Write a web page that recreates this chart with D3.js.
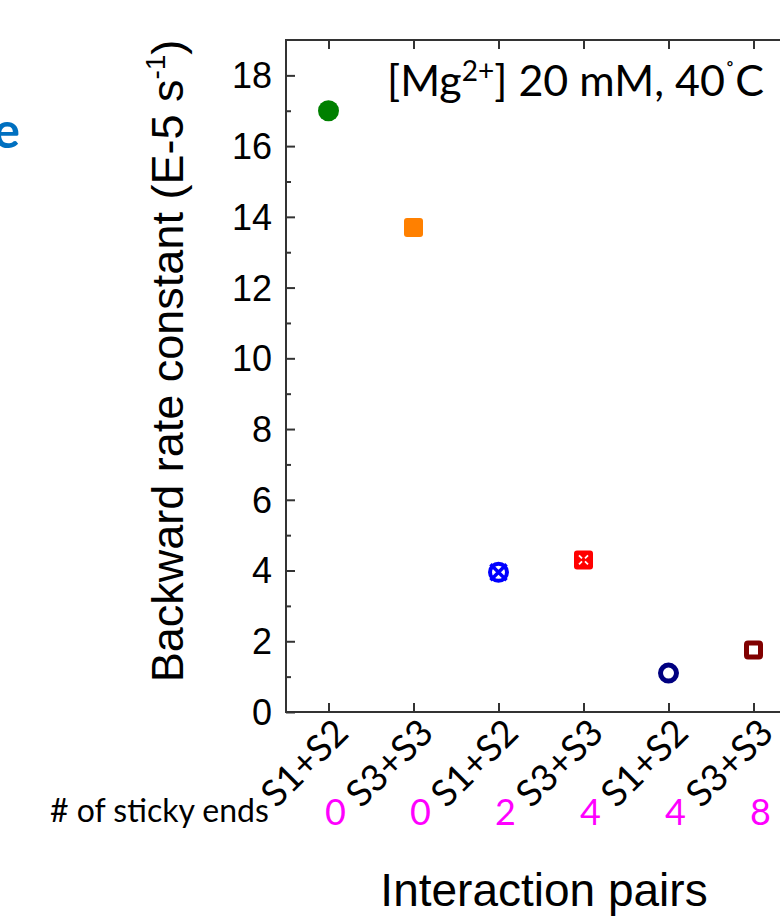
<!DOCTYPE html>
<meta charset="utf-8">
<script src="https://d3js.org/d3.v7.min.js"></script>
<style>
  body { margin: 0px; background: #fff; }
  .ytick { font-family: Arial, "Liberation Sans", sans-serif; font-size: 36px; fill: #000; }
  .xtick { font-family: Lato, "Open Sans", sans-serif; font-size: 37px; fill: #000; }
</style>
<div id="my_dataviz"></div>
<script>

// data
const pairs = ["S1+S2", "S3+S3", "S1+S2", "S3+S3", "S1+S2", "S3+S3"];
const rates = [17.0, 13.7, 3.95, 4.3, 1.1, 1.75];
const stickyEnds = ["0", "0", "2", "4", "4", "8"];
const yTicks = [0, 2, 4, 6, 8, 10, 12, 14, 16, 18];

// one marker kind per point
const markerKind = ["dot", "square", "xcircle", "xsquare", "ring", "box"];
const markerColor = ["#008000", "#ff8000", "#0000ff", "#ff0000", "#000080", "#800000"];

var width = 780, height = 917;
var margin = {top: 40, left: 286, bottom: 712, right: 796};

var svg = d3.select("#my_dataviz")
  .append("svg")
    .attr("width", width)
    .attr("height", height);

var x = d3.scalePoint()
    .domain(d3.range(pairs.length))
    .range([margin.left, margin.right])
    .padding(0.5);

var y = d3.scaleLinear()
    .domain([0, 19])
    .range([margin.bottom, margin.top]);

var axisColor = "#333";

// frame
svg.append("rect")
  .attr("x", margin.left).attr("y", margin.top)
  .attr("width", margin.right - margin.left).attr("height", margin.bottom - margin.top)
  .attr("fill", "none").attr("stroke", axisColor).attr("stroke-width", 2);

// left axis, ticks inside
var yAxis = svg.append("g")
  .attr("transform", "translate(" + margin.left + ",0)")
  .call(d3.axisRight(y).tickValues(yTicks).tickSize(9).tickFormat(""));
yAxis.select(".domain").remove();
yAxis.selectAll("line").attr("stroke", axisColor).attr("stroke-width", 2);

var yMinor = svg.append("g")
  .attr("transform", "translate(" + margin.left + ",0)")
  .call(d3.axisRight(y).tickValues(d3.range(1, 19, 2)).tickSize(5).tickFormat(""));
yMinor.select(".domain").remove();
yMinor.selectAll("line").attr("stroke", axisColor).attr("stroke-width", 2);

svg.selectAll(".ytick")
  .data(yTicks)
  .enter().append("text")
    .attr("class", "ytick")
    .attr("x", margin.left - 14)
    .attr("y", d => y(d))
    .attr("dy", "0.36em")
    .attr("text-anchor", "end")
    .text(d => d);

// bottom and top ticks
var xb = svg.append("g")
  .attr("transform", "translate(0," + margin.bottom + ")")
  .call(d3.axisTop(x).tickSize(9).tickFormat(""));
xb.select(".domain").remove();
xb.selectAll("line").attr("stroke", axisColor).attr("stroke-width", 2);

var xt = svg.append("g")
  .attr("transform", "translate(0," + margin.top + ")")
  .call(d3.axisBottom(x).tickSize(9).tickFormat(""));
xt.select(".domain").remove();
xt.selectAll("line").attr("stroke", axisColor).attr("stroke-width", 2);

// rotated category labels
svg.selectAll(".xtick")
  .data(pairs)
  .enter().append("text")
    .attr("class", "xtick")
    .attr("text-anchor", "end")
    .attr("transform", (d, i) => "translate(" + (x(i) + 22) + "," + 735 + ") rotate(-45)")
    .text(d => d);

// markers
var pts = svg.selectAll(".pt")
  .data(rates)
  .enter().append("g")
    .attr("class", "pt")
    .attr("transform", (d, i) => "translate(" + x(i) + "," + y(d) + ")");

pts.each(function(d, i) {
  var g = d3.select(this), c = markerColor[i];
  switch (markerKind[i]) {
    case "dot":
      g.append("circle").attr("r", 10.5).attr("fill", c);
      break;
    case "square":
      g.append("rect").attr("x", -9.5).attr("y", -9.5).attr("width", 19).attr("height", 19)
        .attr("rx", 3).attr("fill", c);
      break;
    case "xcircle":
      g.append("circle").attr("r", 8.5).attr("fill", "none").attr("stroke", c).attr("stroke-width", 4);
      g.append("path").attr("d", "M-8,-8L8,8M-8,8L8,-8").attr("stroke", c).attr("stroke-width", 3.5);
      break;
    case "xsquare":
      g.append("rect").attr("x", -9.5).attr("y", -9.5).attr("width", 19).attr("height", 19)
        .attr("rx", 3).attr("fill", c);
      g.append("path").attr("d", "M-4.5,-4.5L-1.5,-1.5M4.5,-4.5L1.5,-1.5M-4.5,4.5L-1.5,1.5M4.5,4.5L1.5,1.5")
        .attr("stroke", "#fff").attr("stroke-width", 1.8);
      break;
    case "ring":
      g.append("circle").attr("r", 8).attr("fill", "none").attr("stroke", c).attr("stroke-width", 5);
      break;
    case "box":
      g.append("rect").attr("x", -7).attr("y", -7).attr("width", 14).attr("height", 14)
        .attr("rx", 1.5).attr("fill", "none").attr("stroke", c).attr("stroke-width", 5);
      break;
  }
});

// y title
var yt = svg.append("text")
  .attr("transform", "translate(183,361) rotate(-90)")
  .attr("text-anchor", "middle")
  .style("font-family", "Arial, 'Liberation Sans', sans-serif")
  .style("font-size", "45px")
  .attr("fill", "#000");
yt.append("tspan").text("Backward rate constant (E-5 s");
yt.append("tspan").attr("dy", -18).style("font-size", "28px").text("-1");
yt.append("tspan").attr("dy", 18).text(")");

// condition label
var cond = svg.append("text")
  .attr("x", 387).attr("y", 96)
  .style("font-family", "Lato, 'Open Sans', sans-serif")
  .style("font-size", "43px")
  .attr("fill", "#000");
cond.append("tspan").text("[Mg");
cond.append("tspan").attr("dy", -15).style("font-size", "28px").text("2+");
cond.append("tspan").attr("dy", 15).text("] 20 mM, 40");
cond.append("tspan").attr("dy", -14).style("font-size", "26px").text("\u02DA");
cond.append("tspan").attr("dy", 14).text("C");

// sticky ends row
svg.append("text")
  .attr("x", 50).attr("y", 822)
  .style("font-family", "Lato, 'Open Sans', sans-serif")
  .style("font-size", "32px")
  .attr("fill", "#000")
  .text("# of sticky ends");

svg.selectAll(".sticky")
  .data(stickyEnds)
  .enter().append("text")
    .attr("class", "sticky")
    .attr("x", (d, i) => x(i) + 7)
    .attr("y", 825)
    .attr("text-anchor", "middle")
    .style("font-family", "Lato, 'Open Sans', sans-serif")
    .style("font-size", "36px")
    .attr("fill", "#ff00ff")
    .text(d => d);

// x title
svg.append("text")
  .attr("x", 544).attr("y", 906)
  .attr("text-anchor", "middle")
  .style("font-family", "Arial, 'Liberation Sans', sans-serif")
  .style("font-size", "46px")
  .attr("fill", "#000")
  .text("Interaction pairs");

// cut-off fragment of a neighbouring heading
svg.append("text")
  .attr("x", 20).attr("y", 148)
  .attr("text-anchor", "end")
  .style("font-family", "Lato, 'Open Sans', sans-serif")
  .style("font-weight", "bold")
  .style("font-size", "50px")
  .attr("fill", "#0070c0")
  .text("e");

</script>
